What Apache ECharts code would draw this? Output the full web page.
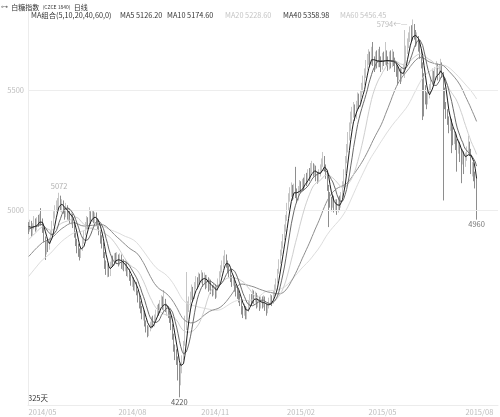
<!DOCTYPE html>
<html>
<head>
<meta charset="utf-8">
<script src="https://cdn.jsdelivr.net/npm/echarts@6/dist/echarts.min.js"></script>
<style>
  html, body { margin: 0; padding: 0; background: #fff; }
  #main { width: 500px; height: 417px; }
</style>
</head>
<body>
<div id="main"></div>
<script>
// 可见区间之前的60个收盘价，只用来算均线起点
const warmClose = [
  4480,4500,4470,4510,4530,4500,4540,4520,4560,4550,4580,4560,4590,4570,4600,4580,4610,4590,4560,4600,
  4640,4660,4690,4670,4700,4720,4690,4730,4750,4720,4740,4760,4730,4770,4750,4780,4760,4790,4770,4760,
  4790,4810,4800,4830,4820,4850,4830,4840,4820,4860,
  4870,4890,4910,4900,4930,
  4920,4945,4915,4940,4930
]

// 日K: [open, close, low, high]
const candles = [
  [4935,4925,4900,4950],[4920,4940,4910,4960],[4945,4905,4890,4955],[4900,4935,4895,4945],[4930,4950,4920,4975],
  [4955,4925,4910,4965],[4920,4960,4915,4970],[4965,4945,4930,4980],[4940,4970,4935,4985],[4975,4950,4935,5008],
  [4955,4920,4905,4965],[4915,4880,4865,4930],[4885,4840,4792,4890],[4835,4862,4815,4875],[4865,4850,4825,4880],
  [4845,4870,4835,4885],[4875,4900,4860,4915],[4895,4940,4890,4955],[4945,4980,4935,4995],[4975,5000,4965,5020],
  [5005,5020,4990,5040],[5015,5030,5000,5050],[5035,5040,5010,5072],[5045,5010,4995,5060],[5005,5025,4990,5045],
  [5030,5000,4985,5040],[4995,4985,4960,5010],[4980,5005,4970,5030],[5010,4980,4960,5020],[4975,4990,4955,5010],
  [4995,4960,4945,5005],[4955,4975,4940,4990],[4980,4940,4925,4985],[4935,4900,4885,4945],[4905,4870,4850,4910],
  [4865,4840,4820,4880],[4845,4830,4805,4860],[4825,4810,4790,4840],[4815,4835,4800,4850],[4840,4870,4830,4885],
  [4865,4900,4860,4915],[4905,4930,4895,4950],[4935,4950,4920,4975],[4955,4940,4920,4970],[4935,4975,4930,5012],
  [4980,4960,4940,4995],[4955,4985,4950,5000],[4990,4960,4945,4995],[4955,4975,4945,4990],[4980,4950,4935,4990],
  [4945,4940,4920,4965],[4935,4910,4895,4945],[4905,4880,4860,4915],[4885,4860,4840,4895],[4855,4820,4800,4865],
  [4815,4770,4755,4825],[4775,4745,4730,4790],[4740,4760,4720,4775],[4765,4735,4722,4780],[4730,4770,4725,4785],
  [4775,4790,4760,4805],[4795,4780,4765,4810],[4775,4810,4770,4820],[4815,4795,4780,4822],[4790,4800,4775,4825],
  [4805,4780,4765,4815],[4775,4805,4770,4820],[4810,4770,4755,4815],[4765,4780,4750,4795],[4785,4760,4745,4795],
  [4755,4775,4745,4790],[4780,4740,4725,4785],[4735,4745,4720,4760],[4750,4720,4705,4755],[4715,4700,4685,4730],
  [4695,4710,4680,4725],[4715,4680,4665,4720],[4675,4690,4660,4705],[4695,4660,4645,4700],[4655,4630,4615,4665],
  [4635,4610,4590,4645],[4605,4590,4570,4620],[4595,4560,4545,4600],[4555,4570,4540,4585],[4575,4530,4515,4580],
  [4525,4510,4490,4540],[4505,4490,4470,4520],[4485,4505,4475,4515],[4510,4520,4495,4535],[4515,4540,4505,4555],
  [4545,4525,4510,4560],[4520,4550,4515,4565],[4555,4570,4540,4585],[4565,4590,4555,4605],[4595,4580,4560,4610],
  [4575,4610,4570,4625],[4615,4625,4600,4645],[4630,4600,4585,4640],[4595,4615,4580,4667],[4620,4590,4575,4630],
  [4585,4590,4560,4610],[4595,4570,4550,4600],[4565,4550,4530,4580],[4555,4520,4500,4565],[4515,4480,4460,4525],
  [4475,4430,4410,4485],[4425,4400,4375,4440],[4405,4380,4355,4420],[4375,4350,4290,4390],[4345,4300,4220,4360],
  [4305,4330,4270,4350],[4335,4380,4320,4395],[4385,4440,4375,4455],[4445,4520,4435,4560],[4525,4560,4500,4742],
  [4565,4590,4540,4620],[4595,4610,4575,4640],[4605,4640,4595,4660],[4645,4660,4625,4690],[4665,4640,4620,4680],
  [4635,4680,4630,4700],[4685,4700,4670,4725],[4705,4690,4670,4720],[4685,4720,4680,4740],[4725,4705,4690,4735],
  [4700,4730,4695,4750],[4735,4700,4680,4740],[4695,4720,4690,4740],[4725,4690,4670,4730],[4685,4710,4675,4730],
  [4715,4680,4660,4720],[4675,4700,4665,4715],[4705,4670,4650,4710],[4665,4660,4640,4685],[4655,4680,4645,4695],
  [4685,4650,4630,4690],[4645,4670,4635,4685],[4675,4700,4665,4715],[4705,4730,4695,4745],[4735,4750,4720,4770],
  [4755,4770,4740,4790],[4775,4790,4760,4810],[4795,4800,4775,4833],[4805,4780,4760,4815],[4775,4760,4740,4790],
  [4755,4740,4720,4770],[4735,4720,4700,4750],[4715,4700,4680,4730],[4695,4710,4685,4730],[4715,4680,4660,4720],
  [4675,4660,4640,4690],[4655,4650,4630,4675],[4645,4640,4615,4665],[4635,4620,4600,4650],[4615,4585,4565,4625],
  [4580,4570,4550,4600],[4575,4590,4560,4610],[4595,4560,4545,4600],[4555,4580,4545,4595],[4585,4610,4575,4625],
  [4615,4630,4600,4650],[4635,4620,4600,4650],[4615,4650,4610,4670],[4655,4630,4610,4665],[4625,4640,4615,4660],
  [4645,4610,4590,4655],[4605,4630,4595,4645],[4635,4600,4580,4640],[4595,4625,4590,4640],[4630,4610,4590,4640],
  [4605,4630,4595,4645],[4635,4600,4580,4640],[4595,4585,4560,4610],[4590,4600,4570,4615],[4605,4620,4590,4635],
  [4625,4630,4605,4650],[4635,4620,4600,4645],[4615,4650,4610,4665],[4655,4670,4640,4690],[4675,4700,4665,4715],
  [4705,4740,4695,4755],[4745,4780,4735,4795],[4785,4820,4775,4835],[4825,4850,4810,4870],[4855,4880,4840,4900],
  [4885,4920,4875,4940],[4925,4960,4910,4980],[4965,5010,4955,5030],[5015,5050,5000,5070],[5055,5070,5035,5095],
  [5075,5090,5055,5115],[5095,5060,5040,5105],[5055,5090,5045,5110],[5095,5070,5050,5180],[5065,5050,5030,5090],
  [5045,5080,5040,5100],[5085,5100,5070,5125],[5105,5090,5070,5120],[5085,5110,5075,5130],[5115,5100,5080,5135],
  [5095,5130,5090,5150],[5135,5120,5100,5155],[5115,5150,5110,5170],[5155,5140,5120,5175],[5135,5170,5130,5196],
  [5175,5180,5155,5205],[5185,5160,5140,5195],[5155,5170,5145,5190],[5175,5140,5120,5185],[5135,5130,5110,5160],
  [5125,5150,5115,5170],[5155,5170,5140,5190],[5175,5190,5160,5215],[5195,5210,5180,5242],[5215,5180,5160,5225],
  [5175,5150,5130,5190],[5145,5100,5080,5155],[5095,5060,4929,5105],[5055,5040,5010,5075],[5035,5020,4995,5055],
  [5025,5050,5010,5065],[5055,5010,4990,5060],[5005,5030,4995,5045],[5035,5000,4980,5045],[4995,5040,4990,5055],
  [5045,5020,5000,5060],[5015,5060,5010,5075],[5065,5100,5055,5120],[5105,5150,5095,5170],[5155,5200,5145,5225],
  [5205,5250,5195,5275],[5255,5300,5240,5325],[5305,5340,5290,5365],[5345,5380,5330,5410],[5385,5400,5360,5430],
  [5405,5420,5385,5450],[5425,5390,5370,5440],[5385,5430,5380,5455],[5435,5460,5420,5490],[5465,5440,5420,5485],
  [5435,5480,5430,5500],[5485,5500,5470,5530],[5505,5530,5490,5560],[5535,5560,5520,5590],[5565,5600,5550,5625],
  [5605,5620,5585,5650],[5625,5640,5605,5670],[5645,5620,5595,5660],[5615,5650,5605,5680],[5655,5620,5600,5700],
  [5615,5600,5575,5640],[5595,5630,5585,5660],[5635,5610,5590,5665],[5605,5640,5595,5670],[5645,5615,5595,5680],
  [5610,5600,5575,5640],[5595,5630,5585,5655],[5635,5620,5600,5660],[5615,5645,5605,5700],[5650,5620,5600,5665],
  [5615,5600,5580,5640],[5595,5630,5585,5660],[5635,5610,5590,5665],[5605,5640,5595,5670],[5645,5620,5600,5660],
  [5615,5600,5575,5635],[5595,5580,5555,5620],[5575,5560,5520,5600],[5555,5575,5540,5595],[5570,5550,5525,5590],
  [5545,5570,5535,5590],[5575,5590,5560,5610],[5595,5620,5550,5750],[5625,5660,5610,5685],[5665,5690,5650,5715],
  [5695,5710,5675,5740],[5715,5740,5700,5765],[5745,5720,5700,5770],[5715,5750,5705,5794],[5755,5730,5710,5775],
  [5725,5700,5680,5750],[5705,5710,5685,5740],[5715,5680,5660,5725],[5675,5660,5630,5700],[5655,5610,5590,5665],
  [5605,5560,5375,5615],[5555,5500,5390,5570],[5495,5470,5440,5520],[5465,5450,5420,5490],[5455,5480,5440,5500],
  [5485,5500,5465,5525],[5505,5530,5490,5555],[5535,5560,5520,5590],[5565,5540,5520,5580],[5535,5570,5530,5595],
  [5575,5590,5560,5620],[5595,5560,5540,5610],[5555,5580,5545,5605],[5585,5600,5570,5630],[5605,5570,5550,5615],
  [5565,5500,5040,5575],[5495,5440,5420,5510],[5435,5400,5380,5450],[5395,5380,5355,5420],[5375,5350,5320,5390],
  [5355,5370,5330,5390],[5365,5330,5237,5380],[5325,5300,5270,5345],[5295,5310,5275,5330],[5315,5280,5250,5325],
  [5275,5260,5160,5295],[5265,5270,5235,5295],[5275,5240,5200,5285],[5235,5220,5112,5255],[5225,5230,5190,5255],
  [5235,5200,5150,5245],[5195,5220,5180,5240],[5225,5240,5205,5265],[5245,5260,5230,5310],[5265,5250,5225,5285],
  [5245,5170,5150,5255],[5165,5180,5140,5200],[5185,5150,5120,5195],[5145,5120,5090,5160],[5125,5040,4960,5135]
]

const maDays = [5, 10, 20, 40, 60]
const maLast = ['5126.20', '5174.60', '5228.60', '5358.98', '5456.45']
const tickIdx = [10, 75, 135, 197, 256, 326]
const tickText = ['2014/05', '2014/08', '2014/11', '2015/02', '2015/05', '2015/08']
const yTicks = [5000, 5500]
const slotCount = 340 // 右侧留白

const maColors = ['#1e1e1e', '#6a6a6a', '#cfcfcf', '#8e8e8e', '#dddddd']
const maTextColors = ['#333', '#333', '#c4c4c4', '#333', '#c4c4c4']

const allClose = warmClose.concat(candles.map((d) => d[1]))
function calcMA(n) {
  const out = []
  for (let i = warmClose.length; i < allClose.length; i++) {
    let s = 0
    for (let j = 0; j < n; j++) s += allClose[i - j]
    out.push(+(s / n).toFixed(2))
  }
  return out
}

const highs = candles.map((d) => d[3])
const lows = candles.map((d) => d[2])
const iMax = highs.indexOf(Math.max(...highs))
const iMin = lows.indexOf(Math.min(...lows))
const early = highs.slice(0, 60)
const iEarly = early.indexOf(Math.max(...early))
const iLast = candles.length - 1

const slots = Array.from({ length: slotCount }, (_, i) => {
  const k = tickIdx.indexOf(i)
  return k >= 0 ? tickText[k] : String(i)
})

const font = 'Noto Sans CJK SC'
const hidden = { color: 'rgba(0,0,0,0)' }

const chart = echarts.init(document.getElementById('main'))

const legendX = [31, 120, 167, 225, 283, 340]
const graphic = [
  {
    type: 'text', left: 1, top: 1,
    style: {
      text: '{i|⊶} {a|白糖指数} {b|(CZCE 1840)} {a|日线}',
      rich: {
        i: { fontSize: 7, fill: '#777', fontFamily: 'DejaVu Sans' },
        a: { fontSize: 7, fill: '#333', fontFamily: font },
        b: { fontSize: 5, fill: '#333', fontFamily: font },
      },
    },
  },
  {
    type: 'text', left: legendX[0], top: 12,
    style: { text: 'MA组合(' + maDays.join(',') + ',0)', fontSize: 7.3, fill: '#333', fontFamily: font },
  },
  ...maDays.map((n, k) => ({
    type: 'text', left: legendX[k + 1], top: 12,
    style: { text: 'MA' + n + ' ' + maLast[k], fontSize: 7.3, fill: maTextColors[k], fontFamily: font },
  })),
  {
    type: 'text', left: 28, top: 394,
    style: { text: candles.length + '天', fontSize: 7.5, fill: '#333', fontFamily: font },
  },
]

const option = {
  animation: false,
  backgroundColor: '#fff',
  graphic: graphic,
  grid: { left: 28, right: 2, top: 12, bottom: 12 },
  xAxis: {
    type: 'category',
    data: slots,
    boundaryGap: true,
    axisLine: { lineStyle: { color: '#ececec' } },
    axisTick: { show: false },
    splitLine: { show: false },
    axisLabel: {
      interval: (i) => tickIdx.includes(i),
      color: '#bdbdbd',
      fontSize: 7.5,
      margin: 3,
      fontFamily: font,
    },
  },
  yAxis: {
    type: 'value',
    min: 4188,
    max: 5825,
    scale: true,
    splitLine: { show: false },
    axisLine: { show: true, lineStyle: { color: '#ececec' } },
    axisTick: { show: false },
    axisLabel: {
      customValues: yTicks,
      formatter: (v) => String(v),
      color: '#bdbdbd',
      fontSize: 7.5,
      margin: 4,
      fontFamily: font,
    },
  },
  series: [
    {
      type: 'candlestick',
      data: candles,
      barWidth: 1,
      itemStyle: {
        color: '#c6c6c6',
        color0: '#8e8e8e',
        borderColor: '#c6c6c6',
        borderColor0: '#8e8e8e',
        borderWidth: 1,
      },
      markLine: {
        silent: true,
        symbol: 'none',
        label: { show: false },
        lineStyle: { color: '#ededed', type: 'solid', width: 1 },
        data: yTicks.map((v) => ({ yAxis: v })),
      },
      markPoint: {
        symbol: 'circle',
        symbolSize: 1,
        itemStyle: hidden,
        label: { fontSize: 7.5, fontFamily: font },
        data: [
          { coord: [iMax, highs[iMax]], value: highs[iMax],
            label: { position: 'left', distance: 5, offset: [0, 5], color: '#bdbdbd', formatter: '{c}←—' } },
          { coord: [iEarly, highs[iEarly]], value: highs[iEarly],
            label: { position: 'top', distance: 2, color: '#b0b0b0' } },
          { coord: [iMin, lows[iMin]], value: lows[iMin],
            label: { position: 'bottom', distance: 1, color: '#555' } },
          { coord: [iLast, lows[iLast]], value: lows[iLast],
            label: { position: 'bottom', distance: 0, color: '#777' } },
        ],
      },
    },
    ...maDays.map((n, k) => ({
      type: 'line',
      name: 'MA' + n,
      data: calcMA(n),
      showSymbol: false,
      smooth: false,
      z: 3 + (4 - k),
      lineStyle: { width: 1, color: maColors[k] },
    })),
  ],
}

chart.setOption(option)
</script>
</body>
</html>
